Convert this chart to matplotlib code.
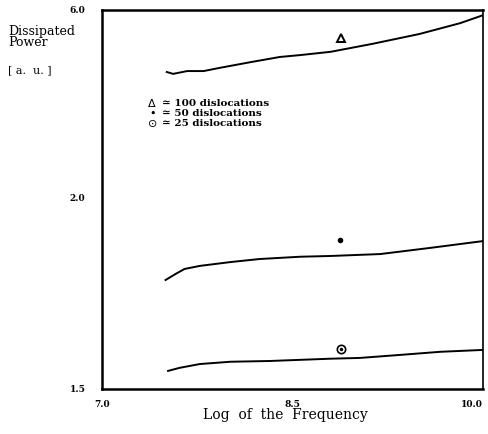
import matplotlib.pyplot as plt
import numpy as np

# log frequency / dissipated power for each dislocation count
x_100 = [7.51, 7.56, 7.67, 7.80, 7.93, 8.17, 8.40, 8.56, 8.80, 9.13, 9.50, 9.82, 10.0]
p_100 = [4.68, 4.64, 4.70, 4.70, 4.77, 4.89, 5.00, 5.04, 5.11, 5.28, 5.49, 5.72, 5.89]

x_50 = [7.50, 7.58, 7.65, 7.77, 8.01, 8.24, 8.56, 8.80, 9.19, 9.58, 10.0]
p_50 = [1.785, 1.801, 1.814, 1.822, 1.832, 1.840, 1.846, 1.848, 1.853, 1.869, 1.887]

x_25 = [7.52, 7.61, 7.77, 8.01, 8.32, 8.56, 8.80, 9.03, 9.35, 9.66, 10.0]
p_25 = [1.547, 1.555, 1.565, 1.571, 1.573, 1.576, 1.579, 1.581, 1.589, 1.597, 1.602]

# where the curve symbols sit
sym_x = [8.88, 8.87, 8.88]
sym_y = [5.40, 1.89, 1.605]

xticks = [7.0, 8.5, 10.0]
xtick_labels = ["7.0", "8.5", "10.0"]
yticks = [1.5, 2.0, 6.0]
ytick_labels = ["1.5", "2.0", "6.0"]

# broken power axis: 1.5-2.0 takes the lower half, 2.0-6.0 the upper half
seg_v = [1.5, 2.0, 6.0]
seg_p = [0.0, 191.0, 379.0]


def fwd(v):
    return np.interp(v, seg_v, seg_p, left=-np.inf, right=np.inf)


def inv(p):
    return np.interp(p, seg_p, seg_v)


plt.rcParams['font.family'] = 'DejaVu Serif'

fig = plt.figure(figsize=(4.88, 4.34), dpi=100)
ax = fig.add_axes([0.209, 0.104, 0.781, 0.873])
ax.set_yscale('function', functions=(fwd, inv))

ax.plot(x_100, p_100, color='black', lw=1.4)
ax.plot(x_50, p_50, color='black', lw=1.4)
ax.plot(x_25, p_25, color='black', lw=1.4)

ax.plot(sym_x[0], sym_y[0], marker='^', ms=6, mfc='white', mec='black', mew=1.4)
ax.plot(sym_x[1], sym_y[1], marker='o', ms=3, color='black')
ax.plot(sym_x[2], sym_y[2], marker='o', ms=6, mfc='white', mec='black', mew=1.2)
ax.plot(sym_x[2], sym_y[2], marker='o', ms=1.5, color='black')

ax.set_xlim(7.0, 10.0)
ax.set_ylim(1.5, 6.0)
ax.set_xticks(xticks, xtick_labels, fontsize=6.5, fontweight='bold')
ax.set_yticks(yticks, ytick_labels, fontsize=6.5, fontweight='bold')
ax.tick_params(length=0, pad=8)
ax.tick_params(axis='y', pad=12)
ax.get_xticklabels()[-1].set_horizontalalignment('right')

for side in ['left', 'bottom', 'top']:
    ax.spines[side].set_linewidth(1.8)
ax.spines['right'].set_linewidth(1.2)

# legend drawn as text lines
fig.text(0.312, 0.762, "$\\Delta$", fontsize=8, ha='center', va='center')
fig.text(0.312, 0.739, "•", fontsize=8, ha='center', va='center')
fig.text(0.312, 0.716, "$\\odot$", fontsize=8, ha='center', va='center')
legend_lines = ["≃ 100 dislocations", "≃ 50 dislocations", "≃ 25 dislocations"]
for i, s in enumerate(legend_lines):
    fig.text(0.332, 0.762 - i * 0.023, s, fontsize=7.5, fontweight='bold', va='center')

fig.text(0.016, 0.915, "Dissipated\nPower", fontsize=9, va='center', linespacing=0.85)
fig.text(0.016, 0.838, "[ a.  u. ]", fontsize=8, va='center')
fig.text(0.584, 0.043, "Log  of  the  Frequency", fontsize=10, ha='center', va='center')

fig.savefig("out.png", dpi=100)
